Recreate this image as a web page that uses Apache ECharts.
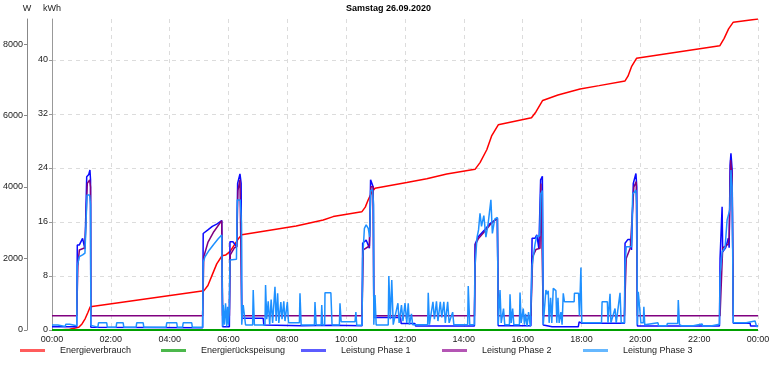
<!DOCTYPE html>
<html>
<head>
<meta charset="utf-8">
<script src="https://cdn.jsdelivr.net/npm/echarts@6/dist/echarts.min.js"></script>
<style>
html,body{margin:0;padding:0;background:#fff;}
#chart{width:777px;height:367px;}
</style>
</head>
<body>
<div id="chart"></div>
<script>
// ---- data (time in hours of day) ----
const titleText = 'Samstag 26.09.2020';
const seriesNames = ['Energieverbrauch', 'Energierückspeisung', 'Leistung Phase 1', 'Leistung Phase 2', 'Leistung Phase 3'];
const xTickLabels = ['00:00','02:00','04:00','06:00','08:00','10:00','12:00','14:00','16:00','18:00','20:00','22:00','00:00'];

// kWh, cumulative
const energieverbrauch = [
  [0,0],[0.34,0.05],[0.6,0.12],[0.91,0.4],[1.02,0.9],[1.13,1.7],[1.22,2.6],[1.30,3.45],
  [5.16,5.8],[5.3,6.6],[5.45,8.2],[5.6,9.8],[5.78,11.0],[5.90,11.1],[6.05,11.6],[6.2,12.6],[6.35,13.6],[6.45,14.1],
  [7.30,14.7],[8.3,15.4],[9.22,16.3],[9.56,16.8],[10.53,17.5],[10.65,18.2],[10.75,19.3],[10.87,20.4],[10.98,21.0],
  [12.06,21.85],[12.74,22.4],[13.42,23.1],[14.38,23.8],[14.55,24.8],[14.78,26.7],[14.95,28.8],[15.17,30.4],
  [16.30,31.45],[16.45,32.3],[16.68,34.0],[17.2,34.8],[17.95,35.7],[18.6,36.2],[19.48,36.9],[19.58,37.6],[19.7,39.0],[19.87,40.25],
  [21.0,41.0],[22.70,42.1],[22.85,43.2],[23.0,44.6],[23.16,45.6],[24.0,46.07]
];
// kWh, feed-in
const energieruckspeisung = [[0,0],[24,0]];

// W
const phase1 = [
  [0,90],[0.84,90],[0.86,2380],[0.93,2380],[1.04,2565],[1.12,2265],[1.16,2300],[1.18,4290],[1.25,4350],[1.29,4475],[1.31,4200],[1.32,80],
  [5.12,65],[5.14,2700],[5.3,2800],[5.45,2900],[5.6,2960],[5.77,3060],[5.80,90],
  [6.03,90],[6.05,2470],[6.15,2470],[6.2,2450],[6.28,2330],[6.31,4100],[6.39,4365],[6.43,4100],[6.45,330],
  [7.18,330],[7.2,140],[8.5,120],[9.5,130],[10.54,120],
  [10.56,2425],[10.68,2520],[10.79,2290],[10.83,4200],[10.89,4245],[10.92,4000],[10.94,350],
  [11.85,350],[11.87,180],[12.34,180],[12.36,110],[14.36,110],
  [14.38,2400],[14.49,2610],[14.7,2800],[14.9,2985],[15.14,3125],[15.17,120],
  [16.28,120],[16.32,2565],[16.42,2565],[16.48,2660],[16.55,2285],[16.59,2285],[16.61,4200],[16.67,4300],[16.70,140],
  [17.0,90],[17.89,90],[17.92,230],[18.0,190],[19.46,190],
  [19.48,2425],[19.58,2535],[19.66,2535],[19.70,2240],[19.76,4100],[19.85,4380],[19.88,4000],[19.90,110],
  [22.69,110],[22.71,2000],[22.78,3450],[22.80,2190],[22.9,2300],[22.99,2565],[23.02,2300],[23.05,4600],[23.08,4940],[23.12,4500],[23.16,190],
  [23.73,190],[23.75,110],[24,110]
];
const phase2 = [
  [0,400],[0.84,400],[0.88,1800],[0.93,2240],[1.12,2300],[1.16,2350],[1.20,4100],[1.28,4200],[1.31,4000],[1.32,400],
  [5.12,400],[5.16,2050],[5.3,2450],[5.5,2750],[5.77,3060],[5.80,400],
  [6.03,400],[6.06,2100],[6.2,2300],[6.28,2330],[6.32,3900],[6.39,4200],[6.45,400],
  [10.54,400],[10.58,2240],[10.79,2350],[10.84,4010],[10.92,4010],[10.94,400],
  [14.36,400],[14.40,2400],[14.49,2550],[14.7,2750],[14.9,2950],[15.14,3125],[15.17,400],
  [16.28,400],[16.34,2050],[16.45,2250],[16.59,2285],[16.62,4100],[16.68,4150],[16.70,400],
  [19.46,400],[19.52,2000],[19.66,2300],[19.72,2350],[19.78,4000],[19.86,4150],[19.90,400],
  [22.71,400],[22.80,2300],[22.99,2400],[23.02,2600],[23.07,4755],[23.12,4300],[23.16,400],[24,400]
];
const phase3 = [
  [0,140],[0.2,140],[0.22,100],[0.45,100],[0.47,160],[0.6,160],[0.62,120],[0.84,120],
  [0.86,1800],[0.93,2050],[1.04,2100],[1.12,2150],[1.16,2200],[1.19,3775],[1.28,3775],[1.31,3500],[1.32,130],
  [1.56,80],[1.58,200],[1.86,200],[1.88,80],[2.18,80],[2.20,200],[2.42,200],[2.44,80],[2.86,80],[2.88,200],[3.10,200],[3.12,80],
  [3.88,80],[3.90,200],[4.24,200],[4.26,80],[4.44,80],[4.46,200],[4.75,200],[4.77,80],[5.12,80],
  [5.14,1900],[5.2,2050],[5.35,2240],[5.5,2400],[5.65,2550],[5.77,2660],[5.80,100],
  [5.82,700],[5.86,150],[5.9,750],[5.94,100],[5.97,650],[6.0,150],[6.03,600],
  [6.05,1960],[6.27,1980],[6.30,3640],[6.40,3640],[6.44,3000],[6.45,150],
  [6.50,700],[6.56,700],[6.58,140],[6.82,140],[6.84,1120],[6.88,140],[7.24,140],[7.26,1260],[7.30,300],[7.35,800],[7.40,150],[7.45,850],[7.5,200],
  [7.58,1210],[7.62,250],[7.67,1025],[7.71,200],[7.78,780],[7.82,300],[7.88,800],[7.92,250],[8.0,780],[8.04,200],
  [8.41,200],[8.43,1025],[8.47,140],[8.92,140],[8.94,780],[8.98,140],[9.15,140],[9.17,700],[9.2,140],
  [9.27,140],[9.28,1040],[9.48,1040],[9.52,140],[9.77,140],[9.79,750],[9.83,230],[10.30,230],[10.33,500],[10.36,130],[10.54,130],
  [10.56,2000],[10.62,2845],[10.68,2940],[10.75,2845],[10.80,2600],[10.83,3900],[10.90,3915],[10.93,3500],[10.94,150],
  [10.98,980],[11.02,140],[11.43,140],[11.45,1510],[11.5,300],[11.55,1400],[11.6,150],[11.76,750],[11.8,200],[11.88,700],[11.93,250],
  [12.0,750],[12.06,200],[12.11,750],[12.15,150],[12.22,450],[12.26,150],[12.77,150],[12.79,1040],[12.83,150],
  [12.95,790],[13.0,300],[13.07,800],[13.12,250],[13.2,790],[13.25,350],[13.32,790],[13.37,200],[13.45,790],[13.5,200],
  [13.62,500],[13.66,150],[14.13,150],[14.15,1230],[14.2,150],[14.36,150],
  [14.38,1800],[14.45,2600],[14.5,2800],[14.55,3265],[14.6,2900],[14.68,3200],[14.75,2600],[14.83,3000],[14.92,3640],[14.97,2700],[15.05,3100],[15.14,3150],[15.17,150],
  [15.23,1120],[15.27,200],[15.35,600],[15.39,150],[15.55,150],[15.57,1000],[15.61,200],[15.66,600],[15.7,150],
  [15.89,150],[15.91,1050],[15.95,200],[16.02,600],[16.06,150],[16.1,450],[16.15,100],[16.2,500],[16.26,100],[16.28,100],
  [16.32,1800],[16.42,2400],[16.48,2630],[16.58,2630],[16.61,3800],[16.67,3900],[16.70,150],
  [16.79,1120],[16.83,1000],[16.87,1100],[16.9,200],[16.95,900],[16.99,200],[17.04,1165],[17.13,1100],[17.16,200],[17.2,900],[17.24,200],
  [17.3,500],[17.34,150],[17.38,1025],[17.42,790],[17.75,790],[17.76,1025],[17.9,1025],[17.93,400],[17.98,1750],[18.01,200],
  [18.68,200],[18.70,790],[18.88,790],[18.9,200],[18.97,1010],[19.0,200],[19.14,600],[19.18,200],[19.31,1040],[19.35,200],[19.46,200],
  [19.48,1800],[19.52,2330],[19.70,2330],[19.74,3800],[19.85,3915],[19.88,3500],[19.90,150],
  [19.93,1070],[19.99,1070],[20.02,200],[20.10,200],[20.12,650],[20.15,150],[20.2,200],[20.6,200],[20.62,120],[20.9,120],[20.92,180],
  [21.2,180],[21.27,180],[21.29,840],[21.33,150],[21.4,120],[21.8,120],[21.82,170],[22.1,170],[22.12,110],[22.4,110],[22.42,160],[22.69,160],
  [22.71,1500],[22.78,2190],[22.88,2300],[22.95,3080],[23.0,3080],[23.04,3360],[23.08,4475],[23.12,4000],[23.16,200],
  [23.6,200],[23.65,250],[23.9,250],[23.95,100],[24,100]
];

// ---- styles ----
const lineColors = ['#ff0000', '#00a000', '#0a0aff', '#800080', '#1e90ff'];
const legendColors = ['#ff5c5c', '#4cb84c', '#5c5cff', '#b455b4', '#66b8ff'];
const legendLeft = [20, 161, 301, 442, 583];
const font = 'Liberation Sans, Arial, sans-serif';

const chart = echarts.init(document.getElementById('chart'), null, {renderer: 'canvas'});
const dataSets = [energieverbrauch, energieruckspeisung, phase1, phase2, phase3];
const yIdx = [0, 0, 1, 1, 1];
const widths = [1.5, 2, 1.5, 1.5, 1.5];

const gridLine = {show: true, lineStyle: {color: '#dcdcdc', type: [4, 4], width: 1}};

const option = {
  animation: false,
  backgroundColor: '#ffffff',
  textStyle: {fontFamily: font},
  title: {
    text: titleText, left: 'center', top: 4, padding: 0,
    textStyle: {fontSize: 9, fontWeight: 'bold', color: '#000', fontFamily: font}
  },
  grid: {left: 52, right: 19, top: 19, bottom: 37, containLabel: false, outerBoundsMode: 'none'},
  legend: seriesNames.map((n, i) => ({
    data: [{name: n, itemStyle: {color: legendColors[i]}}],
    left: legendLeft[i], top: 346, padding: 0,
    icon: 'rect', itemWidth: 25, itemHeight: 3,
    selectedMode: false,
    textStyle: {fontSize: 9, color: '#222', fontFamily: font, padding: [0, 0, 0, 10]}
  })),
  xAxis: {
    type: 'value', min: 0, max: 24, interval: 2,
    axisLine: {show: true, lineStyle: {color: '#999'}},
    axisTick: {show: false},
    axisLabel: {
      fontSize: 9, color: '#222', margin: 5, fontFamily: font,
      formatter: v => xTickLabels[Math.round(v / 2)]
    },
    splitLine: gridLine
  },
  yAxis: [
    {
      type: 'value', name: 'kWh', position: 'left', min: 0, max: 46.07, interval: 8,
      nameLocation: 'end', nameGap: 6,
      nameTextStyle: {fontSize: 9, color: '#222', fontFamily: font},
      axisLine: {show: true, onZero: false, lineStyle: {color: '#999'}},
      axisTick: {show: true, length: 3, lineStyle: {color: '#999'}},
      axisLabel: {fontSize: 9, color: '#222', margin: 4, showMaxLabel: false, fontFamily: font,
        formatter: v => String(v)},
      splitLine: Object.assign({showMaxLine: false}, gridLine)
    },
    {
      type: 'value', name: 'W', position: 'left', offset: 25, min: 0, max: 8700, interval: 2000,
      nameLocation: 'end', nameGap: 6,
      nameTextStyle: {fontSize: 9, color: '#222', fontFamily: font},
      axisLine: {show: true, onZero: false, lineStyle: {color: '#888'}},
      axisTick: {show: true, length: 3, lineStyle: {color: '#888'}},
      axisLabel: {fontSize: 9, color: '#222', margin: 4, showMaxLabel: false, fontFamily: font,
        formatter: v => String(v)},
      splitLine: {show: false}
    }
  ],
  series: seriesNames.map((n, i) => ({
    name: n, type: 'line', yAxisIndex: yIdx[i], data: dataSets[i],
    showSymbol: false, symbol: 'none',
    lineStyle: {color: lineColors[i], width: widths[i]},
    itemStyle: {color: lineColors[i]},
    z: 2 + i
  }))
};
chart.setOption(option);
</script>
</body>
</html>
